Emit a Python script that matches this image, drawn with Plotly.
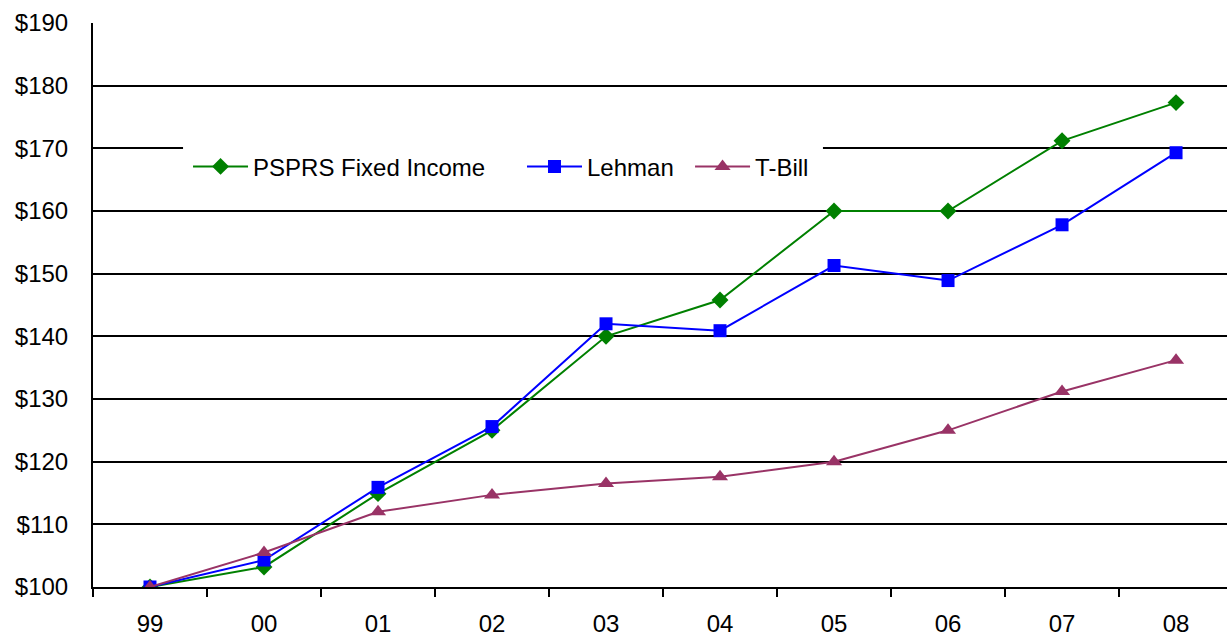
import plotly.graph_objects as go

# Years (two-digit labels) and growth of $100 for each series
years = ["99", "00", "01", "02", "03", "04", "05", "06", "07", "08"]
psprs_fixed_income = [100.0, 103.2, 114.9, 125.0, 140.0, 145.8, 160.0, 160.0, 171.2, 177.3]
lehman = [100.0, 104.3, 115.9, 125.6, 142.0, 140.9, 151.3, 148.9, 157.8, 169.3]
t_bill = [100.0, 105.5, 112.0, 114.7, 116.5, 117.6, 120.0, 125.0, 131.2, 136.2]

y_ticks = [100, 110, 120, 130, 140, 150, 160, 170, 180, 190]
y_tick_text = [f"${v}" for v in y_ticks]

FONT = "Arial, 'Liberation Sans', sans-serif"
FS = 24

fig = go.Figure()
fig.add_trace(go.Scatter(
    x=years, y=psprs_fixed_income, name="PSPRS Fixed Income",
    mode="lines+markers", legend="legend",
    line=dict(color="#008000", width=2),
    marker=dict(symbol="diamond", size=13, color="#008000"),
))
fig.add_trace(go.Scatter(
    x=years, y=lehman, name="Lehman",
    mode="lines+markers", legend="legend2",
    line=dict(color="#0000FF", width=2),
    marker=dict(symbol="square", size=13, color="#0000FF"),
))
fig.add_trace(go.Scatter(
    x=years, y=t_bill, name="T-Bill",
    mode="lines+markers", legend="legend3",
    line=dict(color="#993366", width=2),
    marker=dict(symbol="triangle-up", size=14, color="#993366"),
))


def legend_at(x):
    return dict(
        orientation="h",
        x=x, xanchor="left",
        y=0.745, yanchor="middle",
        bgcolor="rgba(0,0,0,0)", borderwidth=0,
        font=dict(family=FONT, size=FS, color="black"),
        itemwidth=55,
    )


fig.update_layout(
    width=1227, height=637,
    margin=dict(l=93, r=0, t=23, b=50),
    paper_bgcolor="white", plot_bgcolor="white",
    font=dict(family=FONT, size=FS, color="black"),
    showlegend=True,
    legend=legend_at(0.0838),
    legend2=legend_at(0.3783),
    legend3=legend_at(0.5265),
    # white panel behind the legend entries
    shapes=[dict(
        type="rect", xref="paper", yref="paper",
        x0=0.0794, x1=0.6437, y0=0.695, y1=0.7926,
        fillcolor="white", line=dict(width=0), layer="above",
    )],
)

fig.update_xaxes(
    type="category",
    range=[-0.5, 9.447],
    showgrid=False,
    showline=True, linecolor="black", linewidth=2,
    ticks="outside", tickson="boundaries", ticklen=8, tickwidth=2, tickcolor="black",
    ticklabelstandoff=14,
    tickfont=dict(family=FONT, size=FS, color="black"),
)
fig.update_yaxes(
    range=[100, 190],
    tickvals=y_ticks, ticktext=y_tick_text,
    showgrid=True, gridcolor="black", gridwidth=2,
    showline=True, linecolor="black", linewidth=2,
    ticks="", ticklabelstandoff=18,
    zeroline=False,
    tickfont=dict(family=FONT, size=FS, color="black"),
)

fig.write_html("out.html")
